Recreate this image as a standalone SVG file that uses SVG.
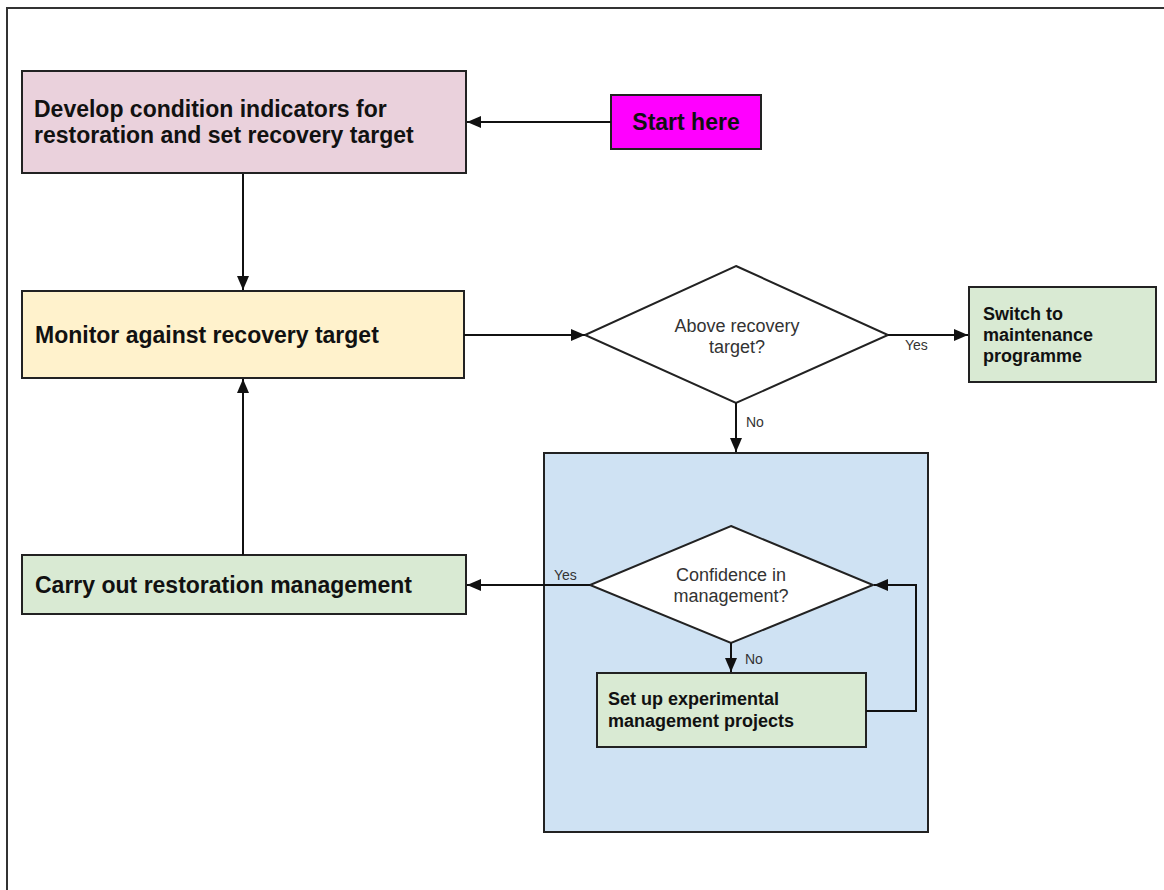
<svg xmlns="http://www.w3.org/2000/svg" width="1164" height="890" viewBox="0 0 1164 890">
<defs>
<style>
.box{stroke:#222;stroke-width:2}
.big{font-family:"Liberation Sans",Arial,sans-serif;font-weight:bold;font-size:23px;fill:#111}
.mid{font-family:"Liberation Sans",Arial,sans-serif;font-weight:bold;font-size:18px;fill:#111}
.dt{font-family:"Liberation Sans",Arial,sans-serif;font-size:18px;fill:#333;text-anchor:middle}
.lbl{font-family:"Liberation Sans",Arial,sans-serif;font-size:14px;fill:#333}
.conn{stroke:#111;stroke-width:2;fill:none}
</style>
<marker id="ah" viewBox="0 0 14 12" refX="14" refY="6" markerWidth="14" markerHeight="12" markerUnits="userSpaceOnUse" orient="auto">
<path d="M0,0 L14,6 L0,12 z" fill="#111"/>
</marker>
</defs>
<rect width="1164" height="890" fill="#fff"/>
<rect x="7" y="8" width="1300" height="1000" fill="none" stroke="#333" stroke-width="2"/>

<g id="recovery-box">
<rect class="box" x="544" y="453" width="384" height="379" fill="#cfe2f3"/>
</g>

<g id="develop">
<rect class="box" x="22" y="71" width="444" height="102" fill="#ead1dc"/>
<text class="big" x="34" y="117">Develop condition indicators for</text>
<text class="big" x="34" y="143">restoration and set recovery target</text>
</g>

<g id="start">
<rect class="box" x="611" y="95" width="150" height="54" fill="#ff00ff"/>
<text class="big" x="686" y="130" text-anchor="middle">Start here</text>
</g>

<g id="monitor">
<rect class="box" x="22" y="291" width="442" height="87" fill="#fff2cc"/>
<text class="big" x="35" y="343">Monitor against recovery target</text>
</g>

<g id="above-target">
<polygon class="box" points="736,266 888,335 736,403 585,335" fill="#fff"/>
<text class="dt" x="737" y="332">Above recovery</text>
<text class="dt" x="737" y="353">target?</text>
</g>

<g id="maintenance">
<rect class="box" x="969" y="287" width="187" height="95" fill="#d9ead3"/>
<text class="mid" x="983" y="320">Switch to</text>
<text class="mid" x="983" y="341">maintenance</text>
<text class="mid" x="983" y="362">programme</text>
</g>

<g id="carry-out">
<rect class="box" x="22" y="555" width="444" height="59" fill="#d9ead3"/>
<text class="big" x="35" y="593">Carry out restoration management</text>
</g>

<g id="confidence">
<polygon class="box" points="731,526 873,585 731,643 590,585" fill="#fff"/>
<text class="dt" x="731" y="581">Confidence in</text>
<text class="dt" x="731" y="602">management?</text>
</g>

<g id="experimental">
<rect class="box" x="597" y="673" width="269" height="74" fill="#d9ead3"/>
<text class="mid" x="608" y="705">Set up experimental</text>
<text class="mid" x="608" y="727">management projects</text>
</g>

<g id="connectors">
<line class="conn" x1="611" y1="122" x2="467" y2="122" marker-end="url(#ah)"/>
<line class="conn" x1="243" y1="174" x2="243" y2="290" marker-end="url(#ah)"/>
<line class="conn" x1="464" y1="335" x2="585" y2="335" marker-end="url(#ah)"/>
<line class="conn" x1="888" y1="335" x2="968" y2="335" marker-end="url(#ah)"/>
<line class="conn" x1="736" y1="403" x2="736" y2="452" marker-end="url(#ah)"/>
<line class="conn" x1="590" y1="585" x2="467" y2="585" marker-end="url(#ah)"/>
<line class="conn" x1="243" y1="555" x2="243" y2="379" marker-end="url(#ah)"/>
<line class="conn" x1="731" y1="643" x2="731" y2="672" marker-end="url(#ah)"/>
<polyline class="conn" points="866,711 916,711 916,585 874,585" marker-end="url(#ah)"/>
<text class="lbl" x="905" y="350">Yes</text>
<text class="lbl" x="746" y="427">No</text>
<text class="lbl" x="554" y="580">Yes</text>
<text class="lbl" x="745" y="664">No</text>
</g>
</svg>
